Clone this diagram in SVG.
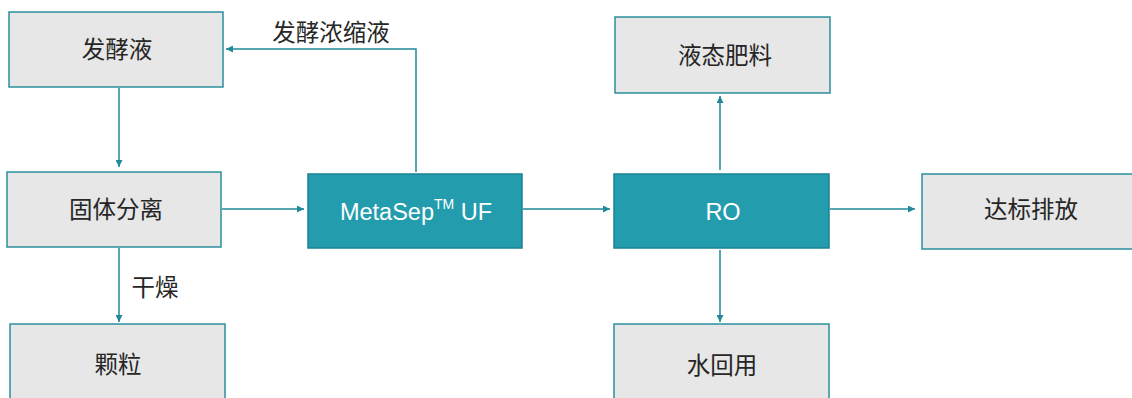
<svg xmlns="http://www.w3.org/2000/svg" width="1132" height="398" viewBox="0 0 1132 398">
<defs>
<style>
.g{fill:#e7e7e7;stroke:#2a8f9d;stroke-width:1.5}
.t{fill:#239cae;stroke:#1a8291;stroke-width:1.5}
.lbl{font-family:"Liberation Sans","Noto Sans CJK SC",sans-serif;font-size:23.5px;fill:#262626;text-anchor:middle;dominant-baseline:central}
.w{fill:#ffffff;font-size:23.5px}
.c{fill:none;stroke:#1f8a98;stroke-width:1.5}
</style>
<marker id="ah" viewBox="0 0 10 10" refX="10" refY="5" markerWidth="8" markerHeight="7" markerUnits="userSpaceOnUse" orient="auto">
<path d="M0,0 L10,5 L0,10 z" fill="#1f8a98"/>
</marker>
</defs>
<rect width="1132" height="398" fill="#ffffff"/>
<g id="connectors">
<line class="c" x1="119" y1="88" x2="119" y2="167" marker-end="url(#ah)"/>
<line class="c" x1="119" y1="248" x2="119" y2="322" marker-end="url(#ah)"/>
<line class="c" x1="222" y1="209" x2="304" y2="209" marker-end="url(#ah)"/>
<line class="c" x1="523" y1="209" x2="610" y2="209" marker-end="url(#ah)"/>
<polyline class="c" points="416,172 416,49 226,49" marker-end="url(#ah)"/>
<line class="c" x1="720" y1="170" x2="720" y2="96" marker-end="url(#ah)"/>
<line class="c" x1="830" y1="209" x2="915" y2="209" marker-end="url(#ah)"/>
<line class="c" x1="720" y1="250" x2="720" y2="322" marker-end="url(#ah)"/>
<text class="lbl" x="331" y="33">发酵浓缩液</text>
<text class="lbl" x="155" y="288">干燥</text>
</g>
<g id="n1"><rect class="g" x="9" y="12" width="214" height="75"/><text class="lbl" x="117" y="50">发酵液</text></g>
<g id="n2"><rect class="g" x="7" y="172" width="214" height="75"/><text class="lbl" x="116" y="210">固体分离</text></g>
<g id="n3"><rect class="g" x="10" y="324" width="215" height="80"/><text class="lbl" x="118" y="365">颗粒</text></g>
<g id="n4"><rect class="t" x="308" y="174" width="214" height="74"/><text class="lbl w" x="416" y="212">MetaSep<tspan font-size="14" dy="-8">TM</tspan><tspan dy="8"> UF</tspan></text></g>
<g id="n5"><rect class="t" x="614" y="174" width="215" height="74"/><text class="lbl w" x="723" y="212">RO</text></g>
<g id="n6"><rect class="g" x="615" y="17" width="215" height="76"/><text class="lbl" x="725" y="56">液态肥料</text></g>
<g id="n7"><rect class="g" x="922" y="174" width="215" height="75"/><text class="lbl" x="1031" y="210">达标排放</text></g>
<g id="n8"><rect class="g" x="614" y="324" width="215" height="80"/><text class="lbl" x="722" y="366">水回用</text></g>
</svg>
